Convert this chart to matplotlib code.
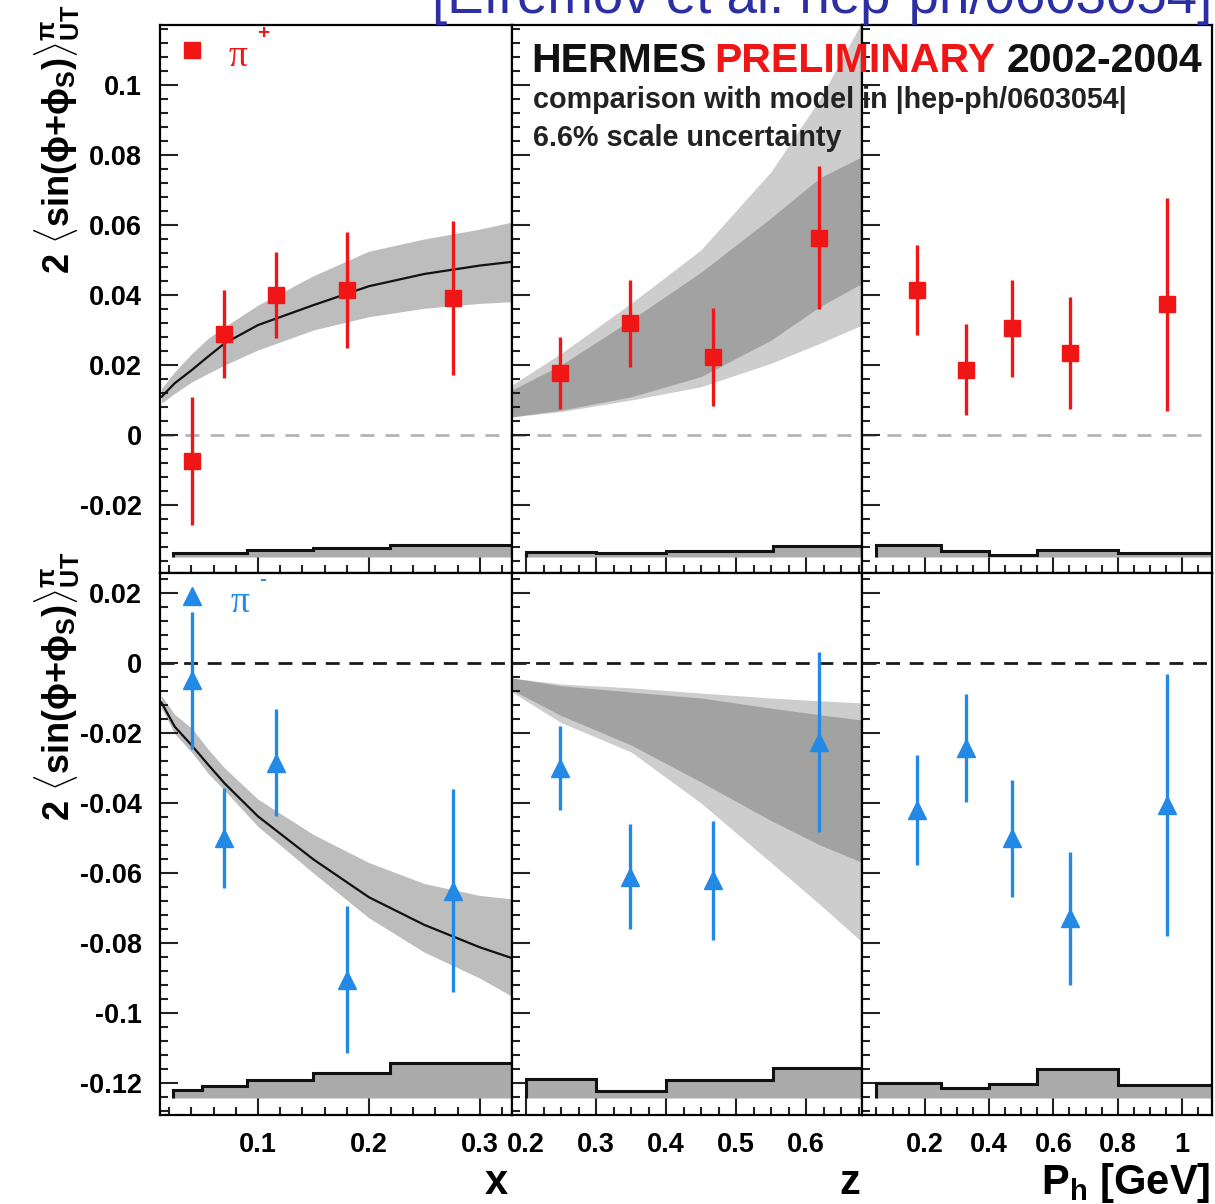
import numpy as np
import matplotlib
matplotlib.use("Agg")
import matplotlib.pyplot as plt
from matplotlib.ticker import MultipleLocator, FuncFormatter

plt.rcParams['font.family'] = ['Liberation Sans', 'DejaVu Sans']
plt.rcParams['font.weight'] = 'bold'
plt.rcParams['mathtext.fontset'] = 'custom'
plt.rcParams['mathtext.rm'] = 'Liberation Sans:bold'
plt.rcParams['mathtext.it'] = 'Liberation Sans:bold'
plt.rcParams['mathtext.bf'] = 'Liberation Sans:bold'

# measured points (x, z, P_h bins)
x_pts = [0.0405, 0.0697, 0.116, 0.180, 0.2757]
z_pts = [0.249, 0.349, 0.467, 0.618]
ph_pts = [0.175, 0.327, 0.472, 0.653, 0.954]

pip_x = [-0.0074, 0.0288, 0.0400, 0.0414, 0.0392]
pip_x_err = [0.0184, 0.0126, 0.0123, 0.0166, 0.0220]
pip_z = [0.0176, 0.0319, 0.0222, 0.0564]
pip_z_err = [0.0103, 0.0125, 0.0140, 0.0203]
pip_ph = [0.0414, 0.0186, 0.0305, 0.0235, 0.0373]
pip_ph_err = [0.0129, 0.0130, 0.0139, 0.0160, 0.0304]

pim_x = [-0.0050, -0.0500, -0.0285, -0.0905, -0.0650]
pim_x_err = [0.0197, 0.0143, 0.0153, 0.0210, 0.0290]
pim_z = [-0.0300, -0.0610, -0.0620, -0.0226]
pim_z_err = [0.0120, 0.0150, 0.0170, 0.0257]
pim_ph = [-0.0420, -0.0243, -0.0500, -0.0729, -0.0406]
pim_ph_err = [0.0157, 0.0154, 0.0167, 0.0190, 0.0374]

# systematic error histograms
x_edges = [0.023, 0.050, 0.090, 0.150, 0.219, 0.40]
z_edges = [0.20, 0.30, 0.40, 0.553, 0.70]
ph_edges = [0.05, 0.25, 0.40, 0.55, 0.80, 1.20]
sys_base = [-0.0348, -0.1242]
pip_sys_x = [0.0010, 0.0012, 0.0020, 0.0025, 0.0034]
pip_sys_z = [0.0013, 0.0010, 0.0017, 0.0032]
pip_sys_ph = [0.0034, 0.0017, 0.0005, 0.0019, 0.0012]
pim_sys_x = [0.0021, 0.0035, 0.0050, 0.0071, 0.0099]
pim_sys_z = [0.0053, 0.0020, 0.0051, 0.0086]
pim_sys_ph = [0.0041, 0.0027, 0.0039, 0.0081, 0.0038]

# model (Efremov et al.) vs x
mod_x = [0.013, 0.025, 0.0405, 0.055, 0.07, 0.10, 0.15, 0.20, 0.25, 0.30, 0.33]
pip_mod = [0.0109, 0.0148, 0.0186, 0.0224, 0.0262, 0.0314, 0.0371, 0.0425, 0.0460, 0.0484, 0.0495]
pip_mod_hi = [0.0133, 0.0181, 0.0233, 0.0276, 0.0309, 0.0371, 0.0455, 0.0525, 0.0560, 0.0588, 0.0609]
pip_mod_lo = [0.0091, 0.0119, 0.0152, 0.0176, 0.0200, 0.0243, 0.0300, 0.0338, 0.0362, 0.0376, 0.0381]
pim_mod = [-0.0113, -0.0182, -0.0236, -0.0290, -0.0344, -0.0438, -0.0561, -0.0669, -0.0748, -0.0812, -0.0844]
pim_mod_hi = [-0.0093, -0.0147, -0.0187, -0.0246, -0.0300, -0.0389, -0.0490, -0.0570, -0.0630, -0.0664, -0.0674]
pim_mod_lo = [-0.0128, -0.0202, -0.0256, -0.0315, -0.0364, -0.0467, -0.0600, -0.0728, -0.0826, -0.0900, -0.0954]

# model vs z (outer light band, inner dark band)
mod_z = [0.18, 0.25, 0.35, 0.45, 0.55, 0.62, 0.68]
pip_zl_hi = [0.0143, 0.0233, 0.0376, 0.0529, 0.0752, 0.0960, 0.1180]
pip_zd_hi = [0.0129, 0.0200, 0.0329, 0.0465, 0.0620, 0.0735, 0.0795]
pip_zd_lo = [0.0052, 0.0071, 0.0109, 0.0167, 0.0271, 0.0367, 0.0433]
pip_zl_lo = [0.0052, 0.0067, 0.0100, 0.0138, 0.0205, 0.0262, 0.0314]
pim_zl_hi = [-0.0043, -0.0060, -0.0071, -0.0086, -0.0100, -0.0108, -0.0114]
pim_zd_hi = [-0.0043, -0.0065, -0.0083, -0.0100, -0.0129, -0.0148, -0.0163]
pim_zd_lo = [-0.0077, -0.0150, -0.0234, -0.0340, -0.0450, -0.0520, -0.0569]
pim_zl_lo = [-0.0083, -0.0170, -0.0254, -0.0400, -0.0570, -0.0690, -0.0797]

red = "#f01616"
blue = "#2389e6"

W, H = 1215, 1204
fig = plt.figure(figsize=(W / 100, H / 100), dpi=100)

col_px = [160, 512, 862, 1212]
row_px = [25, 573, 1115]

def panel(c, r):
    x0, x1 = col_px[c], col_px[c + 1]
    y0, y1 = row_px[r], row_px[r + 1]
    return fig.add_axes([x0 / W, 1 - y1 / H, (x1 - x0) / W, (y1 - y0) / H])

def fmt(v, p):
    if abs(v) < 1e-9:
        return "0"
    return "%g" % round(v, 4)

ylims = [(-0.0394, 0.1171), (-0.1291, 0.0257)]
xlims = [(0.0117, 0.329), (0.18, 0.68), (0.005, 1.093)]
xmaj = [0.1, 0.1, 0.2]
xmin = [0.02, 0.025, 0.05]

pts = [x_pts, z_pts, ph_pts]
edges = [x_edges, z_edges, ph_edges]
vals = [[pip_x, pip_z, pip_ph], [pim_x, pim_z, pim_ph]]
errs = [[pip_x_err, pip_z_err, pip_ph_err], [pim_x_err, pim_z_err, pim_ph_err]]
syss = [[pip_sys_x, pip_sys_z, pip_sys_ph], [pim_sys_x, pim_sys_z, pim_sys_ph]]

axes = {}
for r in range(2):
    for c in range(3):
        ax = panel(c, r)
        axes[(r, c)] = ax
        ax.set_xlim(*xlims[c])
        ax.set_ylim(*ylims[r])

        # zero line
        if r == 0:
            ax.axhline(0, color="#b4b4b4", lw=2, ls=(0, (5, 4)), zorder=1)
        else:
            ax.axhline(0, color="#1a1a1a", lw=2, ls=(0, (5, 3.5)), zorder=1)

        # systematic band
        base = sys_base[r]
        tops = np.array(syss[r][c]) + base
        ax.stairs(tops, edges[c], baseline=base, fill=True,
                  facecolor="#ababab", edgecolor="#111111", lw=2.2, zorder=2)

        col = red if r == 0 else blue
        mk = "s" if r == 0 else "^"
        ax.errorbar(pts[c], vals[r][c], yerr=errs[r][c], fmt=mk, color=col,
                    ms=11.5 if r == 0 else 12.5, elinewidth=2.4, capsize=0, zorder=5)

        ax.xaxis.set_major_locator(MultipleLocator(xmaj[c]))
        ax.xaxis.set_minor_locator(MultipleLocator(xmin[c]))
        ax.yaxis.set_major_locator(MultipleLocator(0.02))
        ax.yaxis.set_minor_locator(MultipleLocator(0.004))
        ax.xaxis.set_major_formatter(FuncFormatter(fmt))
        ax.yaxis.set_major_formatter(FuncFormatter(fmt))
        ax.tick_params(which="both", direction="in", top=False, right=False,
                       width=1.5, color="#222222")
        ax.tick_params(which="major", length=13)
        ax.tick_params(which="minor", length=6)
        ax.tick_params(axis="y", labelsize=19.5, pad=13, labelleft=(c == 0))
        ax.tick_params(axis="x", labelsize=19.5, pad=12, labelbottom=(r == 1))
        for s in ax.spines.values():
            s.set_linewidth(1.6)

# model curves vs x
ax = axes[(0, 0)]
ax.fill_between(mod_x, pip_mod_lo, pip_mod_hi, color="#bdbdbd", lw=0, zorder=1.5)
ax.plot(mod_x, pip_mod, color="#111111", lw=1.6, zorder=1.6)
ax = axes[(1, 0)]
ax.fill_between(mod_x, pim_mod_lo, pim_mod_hi, color="#bdbdbd", lw=0, zorder=1.5)
ax.plot(mod_x, pim_mod, color="#111111", lw=1.6, zorder=1.6)

# model bands vs z
ax = axes[(0, 1)]
ax.fill_between(mod_z, pip_zl_lo, pip_zl_hi, color="#cdcdcd", lw=0, zorder=1.4)
ax.fill_between(mod_z, pip_zd_lo, pip_zd_hi, color="#a2a2a2", lw=0, zorder=1.5)
ax = axes[(1, 1)]
ax.fill_between(mod_z, pim_zl_lo, pim_zl_hi, color="#cdcdcd", lw=0, zorder=1.4)
ax.fill_between(mod_z, pim_zd_lo, pim_zd_hi, color="#a2a2a2", lw=0, zorder=1.5)

# legends
ax = axes[(0, 0)]
ax.plot([0.091], [0.954], "s", color=red, ms=11.5, transform=ax.transAxes)
ax.text(0.222, 0.942, "π", color=red, fontsize=27, family="Liberation Serif",
        fontweight="normal", ha="center", va="center", transform=ax.transAxes)
ax.text(0.292, 0.984, "+", color=red, fontsize=15, ha="center", va="center",
        transform=ax.transAxes)
ax = axes[(1, 0)]
ax.plot([0.091], [0.958], "^", color=blue, ms=12.5, transform=ax.transAxes)
ax.text(0.227, 0.945, "π", color=blue, fontsize=27, family="Liberation Serif",
        fontweight="normal", ha="center", va="center", transform=ax.transAxes)
ax.text(0.292, 0.988, "-", color=blue, fontsize=15, ha="center", va="center",
        transform=ax.transAxes)

# texts
fig.text(531 / W, 1 - 72 / H, "HERMES", fontsize=29.5, color="#111111",
         ha="left", va="baseline")
fig.text(714 / W, 1 - 72 / H, "PRELIMINARY", fontsize=29.5, color=red,
         ha="left", va="baseline")
fig.text(1007 / W, 1 - 72 / H, "2002-2004", fontsize=29.5, color="#111111",
         ha="left", va="baseline")
fig.text(533 / W, 1 - 108 / H, "comparison with model in |hep-ph/0603054|",
         fontsize=20.7, color="#222222", ha="left", va="baseline")
fig.text(533 / W, 1 - 146 / H, "6.6% scale uncertainty",
         fontsize=20.7, color="#222222", ha="left", va="baseline")
fig.text(432 / W, 1 - 13 / H, "[Efremov et al. hep-ph/0603054]",
         fontsize=39.3, fontweight="normal", color="#2c2ea3",
         ha="left", va="baseline")

ylab = r"2 $\langle$sin($\phi$+$\phi_S$)$\rangle^{\pi}_{UT}$"
fig.text(57 / W, 1 - 5 / H, ylab, rotation=90, fontsize=26, ha="center", va="top")
fig.text(57 / W, 1 - 552 / H, ylab, rotation=90, fontsize=26, ha="center", va="top")

fig.text(508 / W, 1 - 1194 / H, "x", fontsize=30, ha="right", va="baseline")
fig.text(860 / W, 1 - 1194 / H, "z", fontsize=30, ha="right", va="baseline")
fig.text(1210 / W, 1 - 1194 / H, r"P$_{h}$ [GeV]", fontsize=30, ha="right", va="baseline")

fig.savefig("out.png", dpi=100)
